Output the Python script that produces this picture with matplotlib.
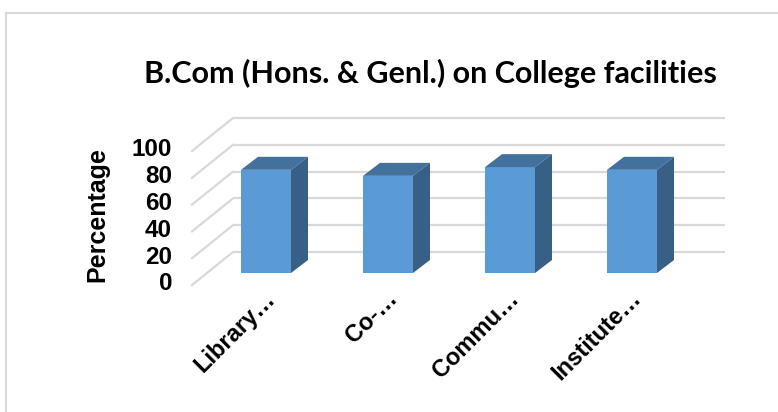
import matplotlib.pyplot as plt
from matplotlib.patches import Polygon

# %% DATA
categories = ["Library…", "Co-…", "Commu…", "Institute…"]
values = [77, 72.5, 79, 77]
y_ticks = [0, 20, 40, 60, 80, 100]
title = "B.Com (Hons. & Genl.) on College facilities"
y_label = "Percentage"

# %% LAYOUT (pixel geometry of the fake 3D chart)
W, H = 778, 412
x0_px, dx_px = 266, 122        # first bar centre and spacing
base_px, scale_px = 273, 1.34  # bar baseline (y from top) and px per unit
bar_w_px = 50
depth_bar = (17, 13)           # bar depth offset (px right, px up)
back_off = (26, 21)            # bar plane -> back wall
front_off = (-15, -12)         # bar plane -> front edge of floor
wall_right_px = 725

face_c = "#5B9BD5"
top_c = "#41719C"
side_c = "#386087"
grid_c = "#D9D9D9"

fig = plt.figure(figsize=(W / 100, H / 100), dpi=100)
ax = fig.add_axes([0, 0, 1, 1])
ax.set_xlim((0 - x0_px) / dx_px, (W - x0_px) / dx_px)
ax.set_ylim((base_px - H) / scale_px, base_px / scale_px)
ax.axis("off")

def ux(px):
    return px / dx_px

def uy(px):
    return px / scale_px

# back wall gridlines and side wall lines
back_left = ux(-x0_px + 233)
wall_right = ux(wall_right_px - x0_px)
for v in y_ticks:
    yb = v + uy(back_off[1])
    ax.plot([back_left, wall_right], [yb, yb], color=grid_c, lw=1.6, zorder=1,
            solid_capstyle="butt")
    ax.plot([back_left, back_left + ux(front_off[0] - back_off[0])],
            [yb, v + uy(front_off[1])], color=grid_c, lw=1.6, zorder=1)

# bars: front face, top and side
xs = list(range(len(values)))
w = ux(bar_w_px)
ax.bar(xs, values, width=w, color=face_c, zorder=3, linewidth=0)
ddx, ddy = ux(depth_bar[0]), uy(depth_bar[1])
for x, v in zip(xs, values):
    l, r = x - w / 2, x + w / 2
    ax.add_patch(Polygon([(l, v), (r, v), (r + ddx, v + ddy), (l + ddx, v + ddy)],
                         closed=True, color=top_c, lw=0, zorder=3))
    ax.add_patch(Polygon([(r, 0), (r + ddx, ddy), (r + ddx, v + ddy), (r, v)],
                         closed=True, color=side_c, lw=0, zorder=3))

# y tick labels on the front edge
tick_x = ux(172 - x0_px)
for v in y_ticks:
    ax.text(tick_x, v + uy(front_off[1]) + uy(1), str(v), ha="right", va="center",
            fontsize=17.5, fontweight="bold", family="Liberation Sans")

ax.text(ux(97 - x0_px), uy(base_px - 215), y_label, rotation=90, ha="center",
        va="center", fontsize=18, fontweight="bold", family="Liberation Sans")

# category labels
for x, c in zip(xs, categories):
    ax.text(x + ux(6), uy(base_px - 295), c, rotation=45, rotation_mode="anchor",
            ha="right", va="center", fontsize=17, fontweight="bold",
            family="Liberation Sans")

fig.text(430 / W, 1 - 73 / H, title, ha="center", va="center", fontsize=22,
         fontweight="bold", family="Lato")

# chart frame (only top and left visible)
fig.add_artist(plt.Line2D([6 / W, 1], [1 - 13 / H, 1 - 13 / H], color=grid_c, lw=1.5))
fig.add_artist(plt.Line2D([6.5 / W, 6.5 / W], [0, 1 - 13 / H], color=grid_c, lw=1.5))

fig.savefig("out.png", dpi=100)
